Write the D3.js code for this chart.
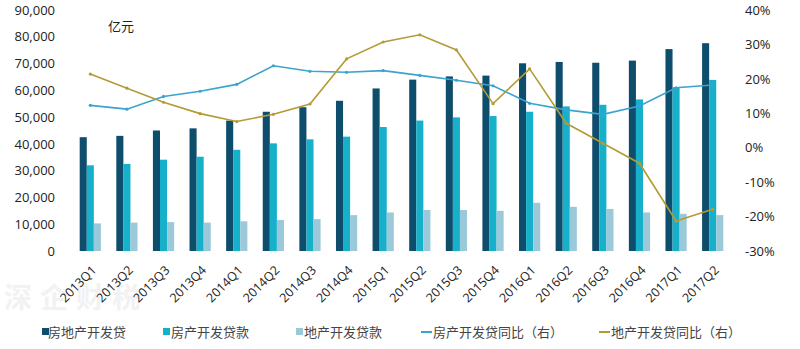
<!DOCTYPE html>
<html><head><meta charset="utf-8">
<script src="https://cdn.jsdelivr.net/npm/d3@7"></script>
<style>
body{margin:0;background:#fff;}
svg{display:block;font-family:"Noto Sans CJK SC","Noto Sans",sans-serif;}
</style></head>
<body><svg id="c" width="800" height="349"></svg>
<script>
const categories = ["2013Q1","2013Q2","2013Q3","2013Q4","2014Q1","2014Q2","2014Q3","2014Q4","2015Q1","2015Q2","2015Q3","2015Q4","2016Q1","2016Q2","2016Q3","2016Q4","2017Q1","2017Q2"];
const totalLoans = [42500,43000,45000,45800,48700,52000,53700,56100,60700,64000,65200,65500,70100,70600,70300,71100,75400,77600];
const housingLoans = [32000,32500,34100,35200,37800,40200,41700,42700,46300,48700,49900,50400,52000,54000,54600,56600,61200,63900];
const landLoans = [10300,10600,10800,10600,11100,11600,11900,13400,14400,15300,15300,15000,18000,16500,15700,14400,13900,13400];
const housingYoY = [12.3,11.2,14.9,16.4,18.4,23.8,22.2,21.9,22.4,21.0,19.6,18.0,12.9,11.0,9.7,12.1,17.4,18.2];
const landYoY = [21.4,17.3,13.2,9.9,7.6,9.7,12.7,25.8,30.7,32.8,28.4,12.8,22.9,7.1,1.3,-4.5,-21.3,-17.9];
const leftTicks = [0,10000,20000,30000,40000,50000,60000,70000,80000,90000];
const rightTicks = [-30,-20,-10,0,10,20,30,40];
const barSeries = ["房地产开发贷","房产开发贷款","地产开发贷款"];
const lineSeries = ["房产开发贷同比（右）","地产开发贷同比（右）"];
const barColors = ["#0e4d6c","#17b0cb","#9bc9d9"];
const lineColors = ["#3aa3cf","#b49b36"];

const svg = d3.select("#c");
const plot = {left:72, right:731, top:10, bottom:251};

const x = d3.scaleBand().domain(categories).range([plot.left, plot.right]).paddingInner(0.42).paddingOuter(0.21);
const x1 = d3.scaleBand().domain(barSeries).range([0, x.bandwidth()]);
const yL = d3.scaleLinear().domain([0,90000]).range([plot.bottom, plot.top]);
const yR = d3.scaleLinear().domain([-30,40]).range([plot.bottom, plot.top]);

// watermark
svg.append("text").attr("x",4).attr("y",308).attr("font-size",28).attr("font-weight","bold")
  .attr("fill","#f2f2f2").attr("letter-spacing",8).text("深企财税");

// bars
const barData = [totalLoans, housingLoans, landLoans];
barSeries.forEach((s,i)=>{
  svg.append("g").selectAll("rect").data(categories).join("rect")
    .attr("x", c=>x(c)+x1(s))
    .attr("width", x1.bandwidth())
    .attr("y", (c,j)=>yL(barData[i][j]))
    .attr("height", (c,j)=>yL(0)-yL(barData[i][j]))
    .attr("fill", barColors[i]);
});

// lines
const lineData = [housingYoY, landYoY];
lineData.forEach((arr,i)=>{
  const line = d3.line().x((d,j)=>x(categories[j])+x.bandwidth()/2).y(d=>yR(d));
  svg.append("path").datum(arr).attr("d", line).attr("fill","none")
    .attr("stroke", lineColors[i]).attr("stroke-width",1.6);
  svg.append("g").selectAll("circle").data(arr).join("circle")
    .attr("cx",(d,j)=>x(categories[j])+x.bandwidth()/2).attr("cy",d=>yR(d))
    .attr("r",1.6).attr("fill",lineColors[i]);
});

// left axis
const axL = svg.append("g").attr("transform",`translate(${plot.left},0)`)
  .call(d3.axisLeft(yL).tickValues(leftTicks).tickFormat(d3.format(",")).tickSize(0).tickPadding(17));
axL.select(".domain").remove();
axL.selectAll("text").attr("font-size",13).attr("fill","#222").attr("font-family","'Open Sans','Noto Sans',sans-serif");

// right axis
const axR = svg.append("g").attr("transform",`translate(${plot.right},0)`)
  .call(d3.axisRight(yR).tickValues(rightTicks).tickFormat(d=>d+"%").tickSize(0).tickPadding(14));
axR.select(".domain").remove();
axR.selectAll("text").attr("font-size",13).attr("fill","#222").attr("font-family","'Open Sans','Noto Sans',sans-serif");

// x axis
const axX = svg.append("g").attr("transform",`translate(0,${plot.bottom})`)
  .call(d3.axisBottom(x).tickSize(0).tickPadding(0));
axX.select(".domain").remove();
axX.selectAll("text").attr("font-size",12.5).attr("fill","#222")
  .attr("font-family","'Open Sans','Noto Sans',sans-serif")
  .attr("text-anchor","end").attr("dy",0).attr("y",0)
  .attr("transform","translate(7,20) rotate(-45)");

// unit
svg.append("text").attr("x",108).attr("y",31).attr("font-size",13).attr("fill","#222").text("亿元");

// legend
const legY = 332;
const barLegX = [42,163,296];
barSeries.forEach((s,i)=>{
  svg.append("rect").attr("x",barLegX[i]).attr("y",legY-4).attr("width",7).attr("height",7).attr("fill",barColors[i]);
  svg.append("text").attr("x",barLegX[i]+(i===0?6:8)).attr("y",legY+5).attr("font-size",13).attr("fill","#444").text(s);
});
const lineLegX = [421,599];
lineSeries.forEach((s,i)=>{
  svg.append("line").attr("x1",lineLegX[i]).attr("x2",lineLegX[i]+11).attr("y1",legY).attr("y2",legY)
    .attr("stroke",lineColors[i]).attr("stroke-width",2);
  svg.append("text").attr("x",lineLegX[i]+12).attr("y",legY+5).attr("font-size",13).attr("fill","#444").text(s);
});
</script></body></html>
